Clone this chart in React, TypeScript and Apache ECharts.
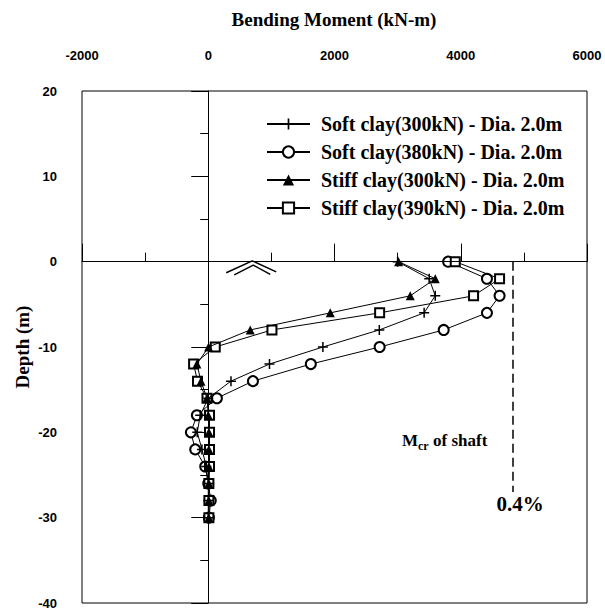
import React, { useEffect, useRef } from 'react';
import * as echarts from 'echarts';

// Depth (m) of each reading
const depths = [0, -2, -4, -6, -8, -10, -12, -14, -16, -18, -20, -22, -24, -26, -28, -30];
// Bending moment (kN-m) per series
const softClay300 = [3000, 3500, 3596, 3420, 2710, 1816, 970, 360, 0, -127, -174, -100, -30, 0, 0, 0];
const softClay380 = [3800, 4415, 4615, 4415, 3730, 2715, 1625, 708, 137, -180, -275, -206, -48, 0, 40, 10];
const stiffClay300 = [3015, 3596, 3200, 1933, 665, 5, -180, -115, -20, 0, 10, 10, 10, 10, 10, 10];
const stiffClay390 = [3913, 4615, 4203, 2715, 1009, 111, -232, -170, -20, 20, 20, 20, 20, 10, 10, 10];

const seriesNames = [
  'Soft clay(300kN) - Dia. 2.0m',
  'Soft clay(380kN) - Dia. 2.0m',
  'Stiff clay(300kN) - Dia. 2.0m',
  'Stiff clay(390kN) - Dia. 2.0m',
];

// Axis ranges
const xRange = [-2000, 6000];
const xInterval = 2000;
const yRange = [-40, 20];
const yInterval = 10;

// Cracking moment of shaft reference line
const mcrMoment = 4830;
const mcrDepths = [0, -27];

// Ground surface symbol (two chevrons), data units
const groundOuter = [[285, -1.3], [697, 0.1], [1077, -1.2]];
const groundInner = [[412, -1.55], [713, -0.4], [982, -1.5]];

const plusPath = 'path://M0,8.5H20V11.5H0ZM8.5,0H11.5V20H8.5Z';

const SERIF = '"Liberation Serif", "Times New Roman", serif';
const SANS = '"Liberation Sans", Arial, sans-serif';

export default function App() {
  const ref = useRef<HTMLDivElement>(null);

  useEffect(() => {
    if (!ref.current) return;
    const chart = echarts.init(ref.current, undefined, { renderer: 'svg' });

    const mk = (name: string, vals: number[], symbol: string, size: number, filled: boolean, z: number) => ({
      type: 'line',
      name,
      data: vals.map((v, i) => [v, depths[i]]),
      symbol,
      symbolSize: size,
      showSymbol: true,
      lineStyle: { color: '#000', width: 1 },
      itemStyle: { color: '#000', borderColor: '#000', borderWidth: filled ? 0 : 1.2 },
      z,
    });

    const option: any = {
      animation: false,
      backgroundColor: '#fff',
      grid: { left: 82, right: 18, top: 91, bottom: 8, show: true, borderColor: '#000', borderWidth: 1, backgroundColor: 'transparent' },
      xAxis: {
        type: 'value',
        position: 'top',
        min: xRange[0],
        max: xRange[1],
        interval: xInterval,
        axisLine: { show: true, lineStyle: { color: '#000', width: 1 } },
        axisTick: { show: true, inside: false, length: 18, lineStyle: { color: '#000', width: 1 } },
        minorTick: { show: true, splitNumber: 2, length: 9, lineStyle: { color: '#000', width: 1 } },
        axisLabel: { margin: 29, color: '#000', fontFamily: SANS, fontWeight: 'bold', fontSize: 13, formatter: (v: number) => String(v) },
        splitLine: { show: false },
      },
      yAxis: {
        type: 'value',
        min: yRange[0],
        max: yRange[1],
        interval: yInterval,
        axisLine: { show: true, lineStyle: { color: '#000', width: 1 } },
        axisTick: { show: true, inside: false, length: 17, lineStyle: { color: '#000', width: 1 } },
        minorTick: { show: true, splitNumber: 2, length: 8, lineStyle: { color: '#000', width: 1 } },
        axisLabel: { margin: 25, color: '#000', fontFamily: SANS, fontWeight: 'bold', fontSize: 13, formatter: (v: number) => String(v) },
        splitLine: { show: false },
      },
      legend: {
        data: seriesNames,
        orient: 'vertical',
        left: 261,
        top: 109,
        itemWidth: 43,
        itemHeight: 14,
        itemGap: 8,
        textStyle: { fontFamily: SERIF, fontWeight: 'bold', fontSize: 20, color: '#000', lineHeight: 20, padding: [0, 0, 0, 6] },
      },
      series: [
        mk(seriesNames[0], softClay300, plusPath, 10, true, 6),
        mk(seriesNames[1], softClay380, 'emptyCircle', 10, false, 3),
        mk(seriesNames[2], stiffClay300, 'triangle', 9, true, 5),
        mk(seriesNames[3], stiffClay390, 'emptyRect', 9, false, 4),
        {
          type: 'line',
          name: 'ground1',
          data: groundOuter,
          symbol: 'none',
          lineStyle: { color: '#000', width: 1.5 },
          z: 2,
          markLine: {
            silent: true,
            symbol: ['none', 'none'],
            label: { show: false },
            emphasis: { disabled: true },
            data: [
              { xAxis: 0, lineStyle: { type: [5, 6], color: '#000', width: 1 } },
              { yAxis: 0, lineStyle: { type: 'solid', color: '#000', width: 1 } },
              [
                { coord: [mcrMoment, mcrDepths[0]], lineStyle: { type: [9, 5], color: '#000', width: 1.5 } },
                { coord: [mcrMoment, mcrDepths[1]] },
              ],
            ],
          },
        },
        {
          type: 'line',
          name: 'ground2',
          data: groundInner,
          symbol: 'none',
          lineStyle: { color: '#000', width: 1.5 },
          z: 2,
        },
      ],
      graphic: [
        { type: 'text', x: 334, y: 19, style: { text: 'Bending Moment (kN-m)', font: `bold 19px ${SERIF}`, fill: '#000', align: 'center', verticalAlign: 'middle' } },
        { type: 'text', x: 22, y: 347, rotation: Math.PI / 2, style: { text: 'Depth (m)', font: `bold 19px ${SERIF}`, fill: '#000', align: 'center', verticalAlign: 'middle' } },
        { type: 'text', x: 402, y: 440, style: { text: 'M', font: `bold 17px ${SERIF}`, fill: '#000', align: 'left', verticalAlign: 'middle' } },
        { type: 'text', x: 418, y: 446, style: { text: 'cr', font: `bold 12px ${SERIF}`, fill: '#000', align: 'left', verticalAlign: 'middle' } },
        { type: 'text', x: 433, y: 440, style: { text: 'of shaft', font: `bold 17px ${SERIF}`, fill: '#000', align: 'left', verticalAlign: 'middle' } },
        { type: 'text', x: 520, y: 504, style: { text: '0.4%', font: `bold 21px ${SERIF}`, fill: '#000', align: 'center', verticalAlign: 'middle' } },
      ],
    };

    chart.setOption(option);
    return () => chart.dispose();
  }, []);

  return <div ref={ref} style={{ position: 'fixed', left: 0, top: 0, width: 605, height: 611 }} />;
}
